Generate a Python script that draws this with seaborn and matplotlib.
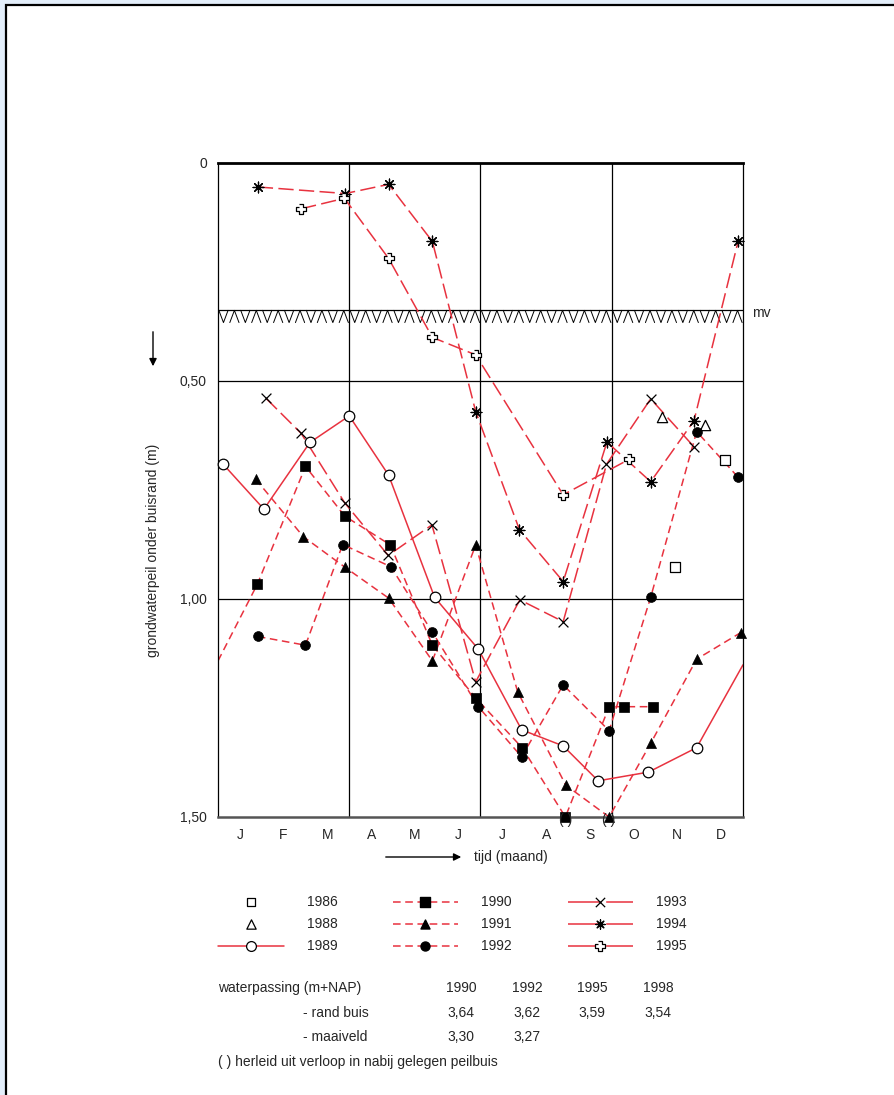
import numpy as np
import pandas as pd
import matplotlib
matplotlib.use("Agg")
import matplotlib.pyplot as plt
from matplotlib.patches import Rectangle
import seaborn as sns

# ---------------------------------------------------------------------------
# Groundwater depth below top of tube (m), x in months (0 = 1 Jan, 12 = 31 Dec)
# ---------------------------------------------------------------------------
months_1986 = [10.45, 11.59]
depth_1986 = [0.926, 0.681]

months_1988 = [10.14, 11.14]
depth_1988 = [0.582, 0.601]

months_1989 = [0.11, 1.05, 2.10, 3.00, 3.90, 4.95, 5.95, 6.94, 7.89, 8.69, 9.84, 10.94]
depth_1989 = [0.690, 0.794, 0.641, 0.580, 0.716, 0.996, 1.115, 1.300, 1.337, 1.417, 1.397, 1.341]
tail_1989 = (12.0, 1.151)          # line runs on into the next year

months_1990 = [0.90, 2.00, 2.90, 3.94, 4.90, 5.90, 6.96, 7.94, 8.94, 9.28, 9.94]
depth_1990 = [0.966, 0.696, 0.810, 0.876, 1.106, 1.228, 1.342, 1.500, 1.247, 1.247, 1.247]
lead_1990 = (0.0, 1.142)           # line comes in from the previous year

months_1991 = [0.86, 1.95, 2.90, 3.90, 4.90, 5.89, 6.85, 7.95, 8.94, 9.89, 10.94, 11.95]
depth_1991 = [0.725, 0.857, 0.927, 0.998, 1.142, 0.876, 1.213, 1.427, 1.500, 1.331, 1.138, 1.077]

months_1992 = [0.91, 2.00, 2.85, 3.95, 4.90, 5.95, 6.94, 7.89, 8.94, 9.89, 10.94, 11.89]
depth_1992 = [1.086, 1.106, 0.875, 0.926, 1.076, 1.247, 1.362, 1.197, 1.302, 0.996, 0.616, 0.721]

months_1993 = [1.10, 1.90, 2.90, 3.89, 4.89, 5.89, 6.90, 7.89, 8.88, 9.89, 10.88]
depth_1993 = [0.540, 0.620, 0.780, 0.900, 0.830, 1.190, 1.002, 1.052, 0.691, 0.541, 0.651]

months_1994 = [0.91, 2.91, 3.90, 4.90, 5.89, 6.89, 7.89, 8.89, 9.89, 10.88, 11.89]
depth_1994 = [0.055, 0.070, 0.049, 0.180, 0.570, 0.841, 0.960, 0.640, 0.731, 0.591, 0.179]

months_1995 = [1.90, 2.89, 3.90, 4.90, 5.89, 7.89, 9.39]
depth_1995 = [0.105, 0.081, 0.219, 0.400, 0.440, 0.761, 0.680]

# points derived from a nearby tube, shown between brackets
derived_points = [(7.94, 1.500), (8.94, 1.500)]

ground_level = 0.35
month_labels = ["J", "F", "M", "A", "M", "J", "J", "A", "S", "O", "N", "D"]
depth_ticks = [0.0, 0.5, 1.0, 1.5]
depth_tick_labels = ["0", "0,50", "1,00", "1,50"]

table_years = ["1990", "1992", "1995", "1998"]
rand_buis = ["3,64", "3,62", "3,59", "3,54"]
maaiveld = ["3,30", "3,27"]

# ---------------------------------------------------------------------------
sns.set_theme(style="white")
plt.rcParams["font.family"] = ["Liberation Sans", "DejaVu Sans"]
plt.rcParams["font.size"] = 10

RED = "#e8323f"
SHORT = (0, (5, 3))
LONG = (0, (10, 3.5))
PLUS = [(-0.32, 1), (0.32, 1), (0.32, 0.32), (1, 0.32), (1, -0.32), (0.32, -0.32),
        (0.32, -1), (-0.32, -1), (-0.32, -0.32), (-1, -0.32), (-1, 0.32), (-0.32, 0.32)]
ASTER = (8, 2, 0)

W, H = 895, 1095
fig = plt.figure(figsize=(W / 100, H / 100), dpi=100)
fig.patch.set_facecolor("#e3eefa")

# overlay in pixel units for the frame, legend and table
ov = fig.add_axes([0, 0, 1, 1], zorder=0)
ov.set_xlim(0, W)
ov.set_ylim(H, 0)
ov.axis("off")
ov.add_patch(Rectangle((6, 5), W + 20, H + 20, facecolor="white",
                       edgecolor="black", linewidth=1.6, clip_on=False))

x0, x1, y0, y1 = 218, 743, 163, 817
ax = fig.add_axes([x0 / W, 1 - y1 / H, (x1 - x0) / W, (y1 - y0) / H], zorder=1)
ax.set_xlim(0, 12)
ax.set_ylim(1.5, 0)

# grid: quarters and half metres
for xv in (3, 6, 9):
    ax.axvline(xv, color="black", lw=0.9, zorder=1)
for yv in (0.5, 1.0):
    ax.axhline(yv, color="black", lw=0.9, zorder=1)

# ground level with hatching
top, bot = 0.338, 0.366
ax.plot([0, 12], [top, top], color="black", lw=0.9, zorder=1)
for k in range(24):
    s = k * 0.5
    ax.plot([s + 0.02, s + 0.125, s + 0.23], [top, bot, top], color="black", lw=0.7, zorder=1)
    ax.plot([s + 0.27, s + 0.375, s + 0.48], [bot, top, bot], color="black", lw=0.7, zorder=1)
ax.text(12.2, ground_level - 0.005, "mv", ha="left", va="center", fontsize=10, clip_on=False)


def draw_line(xs, ys, style):
    df = pd.DataFrame({"maand": xs, "diepte": ys})
    sns.lineplot(data=df, x="maand", y="diepte", ax=ax, color=RED, lw=1.1,
                 linestyle=style, sort=False, estimator=None, legend=False, zorder=2)


def draw_marks(xs, ys, marker, size, open_face=False, filled=True):
    df = pd.DataFrame({"maand": xs, "diepte": ys})
    kw = dict(marker=marker, s=size, zorder=3, legend=False)
    if not filled:
        kw.update(color="black", linewidth=0.9)
    elif open_face:
        kw.update(facecolor="white", edgecolor="black", linewidth=0.9)
    else:
        kw.update(color="black", edgecolor="black", linewidth=0.5)
    sns.scatterplot(data=df, x="maand", y="diepte", ax=ax, clip_on=False, **kw)


draw_line(months_1989 + [tail_1989[0]], depth_1989 + [tail_1989[1]], "-")
draw_line([lead_1990[0]] + months_1990, [lead_1990[1]] + depth_1990, SHORT)
draw_line(months_1991, depth_1991, SHORT)
draw_line(months_1992, depth_1992, SHORT)
draw_line(months_1993, depth_1993, LONG)
draw_line(months_1994, depth_1994, LONG)
draw_line(months_1995, depth_1995, LONG)

draw_marks(months_1986, depth_1986, "s", 48, open_face=True)
draw_marks(months_1988, depth_1988, "^", 55, open_face=True)
draw_marks(months_1989, depth_1989, "o", 58, open_face=True)
draw_marks(months_1990, depth_1990, "s", 52)
draw_marks(months_1991, depth_1991, "^", 52)
draw_marks(months_1992, depth_1992, "o", 50)
draw_marks(months_1993, depth_1993, "x", 50, filled=False)
draw_marks(months_1994, depth_1994, ASTER, 60, filled=False)
draw_marks(months_1995, depth_1995, PLUS, 60, open_face=True)

for mx, my in derived_points:
    ax.text(mx, my + 0.008, "( )", ha="center", va="center", fontsize=10, clip_on=False, zorder=4)

# axes styling
ax.set_xticks([3, 6, 9])
ax.set_xticklabels([])
ax.set_xticks(np.arange(12) + 0.5, minor=True)
ax.set_xticklabels(month_labels, minor=True, fontsize=10)
ax.set_yticks(depth_ticks)
ax.set_yticklabels(depth_tick_labels, fontsize=10)
ax.tick_params(axis="both", which="both", length=0)
ax.tick_params(axis="x", which="minor", pad=8)
ax.tick_params(axis="y", pad=8)
ax.set_xlabel("")
ax.set_ylabel("")
for side in ("left", "right"):
    ax.spines[side].set_color("black")
    ax.spines[side].set_linewidth(0.9)
ax.spines["top"].set_color("black")
ax.spines["top"].set_linewidth(2.0)
ax.spines["bottom"].set_color("#555555")
ax.spines["bottom"].set_linewidth(1.8)

# axis titles with arrows
ov.text(153, 550, "grondwaterpeil onder buisrand (m)", rotation=90, ha="center",
        va="center", fontsize=10)
ov.annotate("", xy=(153, 369), xytext=(153, 329),
            arrowprops=dict(arrowstyle="-|>", color="black", lw=1.0, mutation_scale=11))
ov.annotate("", xy=(464, 857), xytext=(383, 857),
            arrowprops=dict(arrowstyle="-|>", color="black", lw=1.0, mutation_scale=11))
ov.text(474, 857, "tijd (maand)", ha="left", va="center", fontsize=10)

# legend
rows = [902, 924, 946]
ov.scatter([251], [rows[0]], marker="s", s=40, facecolor="white", edgecolor="black", lw=0.9)
ov.scatter([251], [rows[1]], marker="^", s=45, facecolor="white", edgecolor="black", lw=0.9)
ov.plot([218, 284], [rows[2], rows[2]], color=RED, lw=1.1)
ov.scatter([251], [rows[2]], marker="o", s=50, facecolor="white", edgecolor="black", lw=0.9, zorder=3)
for r, lab in zip(rows, ["1986", "1988", "1989"]):
    ov.text(307, r, lab, ha="left", va="center", fontsize=10)

col2 = [("s", "1990"), ("^", "1991"), ("o", "1992")]
for r, (m, lab) in zip(rows, col2):
    ov.plot([393, 458], [r, r], color=RED, lw=1.1, linestyle=SHORT)
    ov.scatter([425], [r], marker=m, s=42, color="black", zorder=3)
    ov.text(481, r, lab, ha="left", va="center", fontsize=10)

col3 = [("x", "1993", False), (ASTER, "1994", False), (PLUS, "1995", True)]
for r, (m, lab, open_face) in zip(rows, col3):
    ov.plot([568, 633], [r, r], color=RED, lw=1.1, linestyle=(0, (21, 4)))
    if open_face:
        ov.scatter([600], [r], marker=m, s=50, facecolor="white", edgecolor="black", lw=0.9, zorder=3)
    else:
        ov.scatter([600], [r], marker=m, s=45, color="black", lw=0.9, zorder=3)
    ov.text(656, r, lab, ha="left", va="center", fontsize=10)

# levelling table
cols = [461, 527, 592, 658]
ov.text(218, 988, "waterpassing (m+NAP)", ha="left", va="center", fontsize=10)
for cx, t in zip(cols, table_years):
    ov.text(cx, 988, t, ha="center", va="center", fontsize=10)
ov.text(303, 1013, "- rand buis", ha="left", va="center", fontsize=10)
for cx, t in zip(cols, rand_buis):
    ov.text(cx, 1013, t, ha="center", va="center", fontsize=10)
ov.text(303, 1037, "- maaiveld", ha="left", va="center", fontsize=10)
for cx, t in zip(cols, maaiveld):
    ov.text(cx, 1037, t, ha="center", va="center", fontsize=10)
ov.text(218, 1062, "( ) herleid uit verloop in nabij gelegen peilbuis", ha="left",
        va="center", fontsize=10)

fig.savefig("out.png", dpi=100, facecolor=fig.get_facecolor())
